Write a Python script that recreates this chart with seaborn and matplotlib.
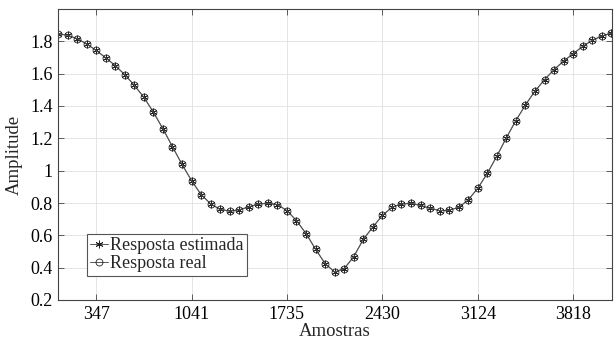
import numpy as np
import pandas as pd
import matplotlib
matplotlib.use("Agg")
import matplotlib.pyplot as plt
import seaborn as sns

# sample positions (amostras)
n_total = 4165
amostras = [k * n_total / 60 for k in range(1, 60)]

resposta_estimada = [
    1.848, 1.837, 1.817, 1.784, 1.744, 1.698, 1.650, 1.594, 1.528, 1.454,
    1.362, 1.259, 1.148, 1.039, 0.938, 0.852, 0.795, 0.760, 0.750, 0.758,
    0.776, 0.794, 0.798, 0.790, 0.753, 0.691, 0.611, 0.514, 0.425, 0.373,
    0.394, 0.468, 0.575, 0.651, 0.723, 0.773, 0.794, 0.798, 0.785, 0.767,
    0.753, 0.755, 0.773, 0.819, 0.891, 0.983, 1.090, 1.204, 1.310, 1.407,
    1.492, 1.563, 1.625, 1.678, 1.723, 1.769, 1.806, 1.833, 1.850,
]
resposta_real = list(resposta_estimada)

x_ticks = [347, 1041, 1735, 2430, 3124, 3818]
y_ticks = [0.2, 0.4, 0.6, 0.8, 1.0, 1.2, 1.4, 1.6, 1.8]
y_tick_labels = ["0.2", "0.4", "0.6", "0.8", "1", "1.2", "1.4", "1.6", "1.8"]

sns.set_theme(style="white")
plt.rcParams["font.family"] = ["Liberation Serif", "DejaVu Serif"]

fig = plt.figure(figsize=(6.15, 3.41), dpi=100)
ax = fig.add_axes([58 / 615, 1 - 300 / 341, 554 / 615, 291 / 341])

sns.lineplot(x=amostras, y=resposta_estimada, ax=ax, color="#555555",
             linewidth=0.7, marker=(6, 2, 0), markersize=5.5,
             markeredgecolor="#222222", markeredgewidth=0.6,
             label="Resposta estimada", sort=False)
sns.lineplot(x=amostras, y=resposta_real, ax=ax, color="#555555",
             linewidth=0.7, marker="o", markersize=5, markeredgecolor="#222222",
             markerfacecolor="none", markeredgewidth=0.6,
             label="Resposta real", sort=False)

ax.set_xlim(amostras[0], amostras[-1] + 5)
ax.set_ylim(0.2, 2.0)
ax.set_xticks(x_ticks)
ax.set_xticklabels([str(t) for t in x_ticks])
ax.set_yticks(y_ticks)
ax.set_yticklabels(y_tick_labels)

ax.grid(True, color="#e0e0e0", linewidth=0.6)
ax.set_axisbelow(True)
for s in ax.spines.values():
    s.set_visible(True)
    s.set_color("#444444")
    s.set_linewidth(0.8)
ax.tick_params(direction="in", length=4, width=0.6, color="#444444",
               top=True, right=True, bottom=True, left=True,
               labelsize=13, labelcolor="black", pad=4)

ax.set_xlabel("Amostras", fontsize=13.5, labelpad=0)
ax.set_ylabel("Amplitude", fontsize=13.5, labelpad=5)

leg = ax.legend(loc="lower left", bbox_to_anchor=(0.052, 0.0825),
                borderaxespad=0, fontsize=13, frameon=True, fancybox=False,
                framealpha=1, edgecolor="#555555", handlelength=1.0,
                handletextpad=0.1, borderpad=0.2, labelspacing=0.05)
leg.get_frame().set_linewidth(0.8)

fig.savefig("out.png", dpi=100)
